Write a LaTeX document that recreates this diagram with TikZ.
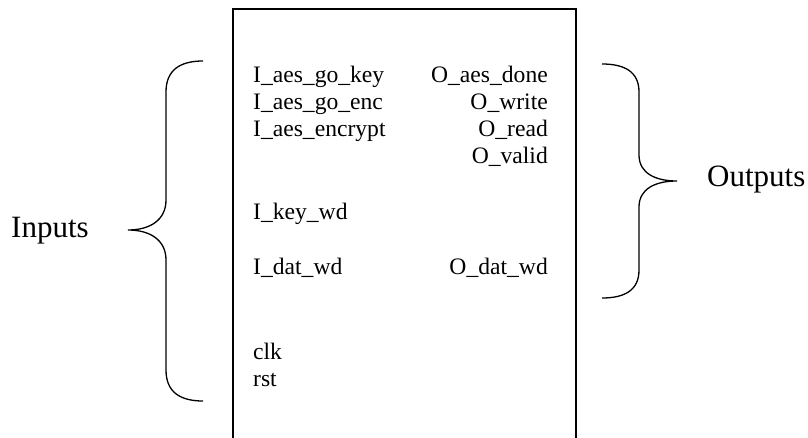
\documentclass[tikz,border=0pt]{standalone}
\usepackage{fontspec}
\setmainfont{Liberation Serif}
\begin{document}
\begin{tikzpicture}[x=1pt,y=-1pt,
  sig/.style={inner sep=0pt,font=\fontsize{23.6}{27}\selectfont},
  lbl/.style={inner sep=0pt,font=\fontsize{31}{36}\selectfont},
  boxline/.style={line width=1.6pt},
  bracel/.style={line width=1.3pt}]
\useasboundingbox (0,0) rectangle (808,438);
% module box (open at the bottom edge)
\draw[boxline] (233,438) -- (233,9) -- (576,9) -- (576,438);
% left column
\node[sig,anchor=base west] (i1) at (253,83) {I\_aes\_go\_key};
\node[sig,anchor=base west] (i2) at (253,110) {I\_aes\_go\_enc};
\node[sig,anchor=base west] (i3) at (253,137) {I\_aes\_encrypt};
\node[sig,anchor=base west] (i4) at (253,220) {I\_key\_wd};
\node[sig,anchor=base west] (i5) at (253,275) {I\_dat\_wd};
\node[sig,anchor=base west] (i6) at (253,359) {clk};
\node[sig,anchor=base west] (i7) at (253,386) {rst};
% right column
\node[sig,anchor=base east] (o1) at (548,83) {O\_aes\_done};
\node[sig,anchor=base east] (o2) at (548,110) {O\_write};
\node[sig,anchor=base east] (o3) at (548,137) {O\_read};
\node[sig,anchor=base east] (o4) at (548,164) {O\_valid};
\node[sig,anchor=base east] (o5) at (548,275) {O\_dat\_wd};
% labels
\node[lbl,anchor=base west] (inl) at (11,238) {Inputs};
\node[lbl,anchor=base west] (outl) at (707,187) {Outputs};
% left brace
\draw[bracel] (203,61) .. controls (180,61) and (166,70) .. (166,92)
  -- (166,200) .. controls (166,220) and (150,230) .. (128,230)
  .. controls (150,230) and (166,240) .. (166,260)
  -- (166,370) .. controls (166,392) and (180,401) .. (203,401);
% right brace
\draw[bracel] (602,64) .. controls (625,64) and (639,72) .. (639,92)
  -- (639,155) .. controls (639,173) and (655,181) .. (677,181)
  .. controls (655,181) and (639,189) .. (639,207)
  -- (639,270) .. controls (639,290) and (625,298) .. (602,298);
\end{tikzpicture}
\end{document}
